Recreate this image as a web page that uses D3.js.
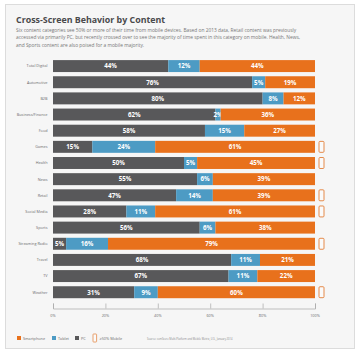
<!DOCTYPE html>
<html>
<head>
<meta charset="utf-8">
<script src="https://cdn.jsdelivr.net/npm/d3@7"></script>
<style>
  html, body { margin: 0; padding: 0; background: #fff; }
  svg { display: block; }
  text { font-family: "Open Sans", sans-serif; }
</style>
</head>
<body>
<svg id="chart" width="360" height="352"></svg>
<script>
const categories = ['Total Digital', 'Automotive', 'B2B', 'Business/Finance', 'Food', 'Games', 'Health', 'News', 'Retail', 'Social Media', 'Sports', 'Streaming Radio', 'Travel', 'TV', 'Weather']
const pc = [44, 76, 80, 62, 58, 15, 50, 55, 47, 28, 56, 5, 68, 67, 31]
const tablet = [12, 5, 8, 2, 15, 24, 5, 6, 14, 11, 6, 16, 11, 11, 9]
const smartphone = [44, 19, 12, 36, 27, 61, 45, 39, 39, 61, 38, 79, 21, 22, 60]
const mobileMajority = ['Games', 'Health', 'Retail', 'Social Media', 'Streaming Radio', 'Weather']
const xTicks = [0, 20, 40, 60, 80, 100]
const seriesNames = ['PC', 'Tablet', 'Smartphone']
const seriesColors = ['#58585a', '#4d9bc4', '#e8711c']
const intro = [
  'Six content categories see 50% or more of their time from mobile devices. Based on 2013 data, Retail content was previously',
  'accessed via primarily PC, but recently crossed over to see the majority of time spent in this category on mobile. Health, News,',
  'and Sports content are also poised for a mobile majority.'
]

function drawChart() {
  const svg = d3.select('#chart')

  // panel
  svg.append('rect')
    .attr('x', 5.5).attr('y', 4.5)
    .attr('width', 349).attr('height', 344)
    .attr('fill', '#f6f6f6')
    .attr('stroke', '#dcdcdc')

  svg.append('text')
    .attr('x', 16).attr('y', 22.5)
    .attr('font-size', 8.85)
    .attr('font-weight', 700)
    .attr('fill', '#4a4a4c')
    .text('Cross-Screen Behavior by Content')

  svg.selectAll('.intro')
    .data(intro)
    .join('text')
    .attr('class', 'intro')
    .attr('x', 16)
    .attr('y', (d, i) => 31.5 + i * 7.6)
    .attr('font-size', 4.85)
    .attr('fill', '#767678')
    .text(d => d)

  const x = d3.scaleLinear().domain([0, 100]).range([53, 315])
  const y = d3.scaleBand().domain(categories).range([58, 300.3]).paddingInner(0.26).paddingOuter(0.13)

  const rows = categories.map((name, i) => ({ name, PC: pc[i], Tablet: tablet[i], Smartphone: smartphone[i] }))
  const stacked = d3.stack().keys(seriesNames)(rows)
  const color = d3.scaleOrdinal().domain(seriesNames).range(seriesColors)

  const layers = svg.selectAll('.layer')
    .data(stacked)
    .join('g')
    .attr('class', 'layer')

  layers.selectAll('rect')
    .data(d => d)
    .join('rect')
    .attr('x', d => x(d[0]))
    .attr('y', d => y(d.data.name))
    .attr('width', d => x(d[1]) - x(d[0]))
    .attr('height', y.bandwidth())
    .attr('fill', function () { return color(d3.select(this.parentNode).datum().key) })

  layers.selectAll('text')
    .data(d => d.map(v => ({ v, key: d.key })))
    .join('text')
    .attr('x', d => x((d.v[0] + d.v[1]) / 2))
    .attr('y', d => y(d.v.data.name) + y.bandwidth() / 2 + 2.3)
    .attr('text-anchor', 'middle')
    .attr('font-size', 6.2)
    .attr('font-weight', 700)
    .attr('fill', '#fff')
    .text(d => d.v.data[d.key] + '%')

  // category labels
  svg.selectAll('.cat')
    .data(categories)
    .join('text')
    .attr('class', 'cat')
    .attr('x', 47.5)
    .attr('y', d => y(d) + y.bandwidth() / 2 + 1.4)
    .attr('text-anchor', 'end')
    .attr('font-size', 3.8)
    .attr('fill', '#6a6a6c')
    .text(d => d)

  // phone icons for >50% mobile
  svg.selectAll('.phone')
    .data(mobileMajority)
    .join('rect')
    .attr('class', 'phone')
    .attr('x', 319)
    .attr('y', d => y(d) + 0.5)
    .attr('width', 5)
    .attr('height', y.bandwidth() - 1)
    .attr('rx', 1)
    .attr('fill', '#fafafa')
    .attr('stroke', '#e58a4a')
    .attr('stroke-width', 1)

  // x axis, ticks pointing up
  const axis = d3.axisTop(x)
    .tickValues(xTicks)
    .tickSize(5)
    .tickSizeOuter(5)
    .tickFormat('')
  const axisG = svg.append('g')
    .attr('transform', 'translate(0,308.5)')
    .call(axis)
  axisG.selectAll('path, line').attr('stroke', '#a8a8a8').attr('stroke-width', 0.7)

  svg.selectAll('.xlabel')
    .data(xTicks)
    .join('text')
    .attr('class', 'xlabel')
    .attr('x', d => x(d))
    .attr('y', 317)
    .attr('text-anchor', 'middle')
    .attr('font-size', 3.8)
    .attr('fill', '#6a6a6c')
    .text(d => d + '%')

  // legend
  const legendItems = [
    { label: 'Smartphone', color: seriesColors[2], sx: 17, tx: 23 },
    { label: 'Tablet', color: seriesColors[1], sx: 52, tx: 58 },
    { label: 'PC', color: seriesColors[0], sx: 75, tx: 81 }
  ]
  const legend = svg.append('g')
  legend.selectAll('rect')
    .data(legendItems)
    .join('rect')
    .attr('x', d => d.sx)
    .attr('y', 336)
    .attr('width', 4)
    .attr('height', 4)
    .attr('fill', d => d.color)
  legend.selectAll('text')
    .data(legendItems)
    .join('text')
    .attr('x', d => d.tx)
    .attr('y', 340)
    .attr('font-size', 3.8)
    .attr('fill', '#6a6a6c')
    .text(d => d.label)

  svg.append('rect')
    .attr('x', 93).attr('y', 334)
    .attr('width', 3.6).attr('height', 8)
    .attr('rx', 0.6)
    .attr('fill', '#fafafa')
    .attr('stroke', '#e58a4a')
    .attr('stroke-width', 0.8)
  svg.append('text')
    .attr('x', 99.5).attr('y', 340)
    .attr('font-size', 3.8)
    .attr('fill', '#6a6a6c')
    .text('≥50% Mobile')

  svg.append('text')
    .attr('x', 147).attr('y', 340)
    .attr('font-size', 2.6)
    .attr('fill', '#8a8a8c')
    .text('Source: comScore Multi-Platform and Mobile Metrix, U.S., January 2014')
}

document.addEventListener('DOMContentLoaded', drawChart, false)
</script>
</body>
</html>
